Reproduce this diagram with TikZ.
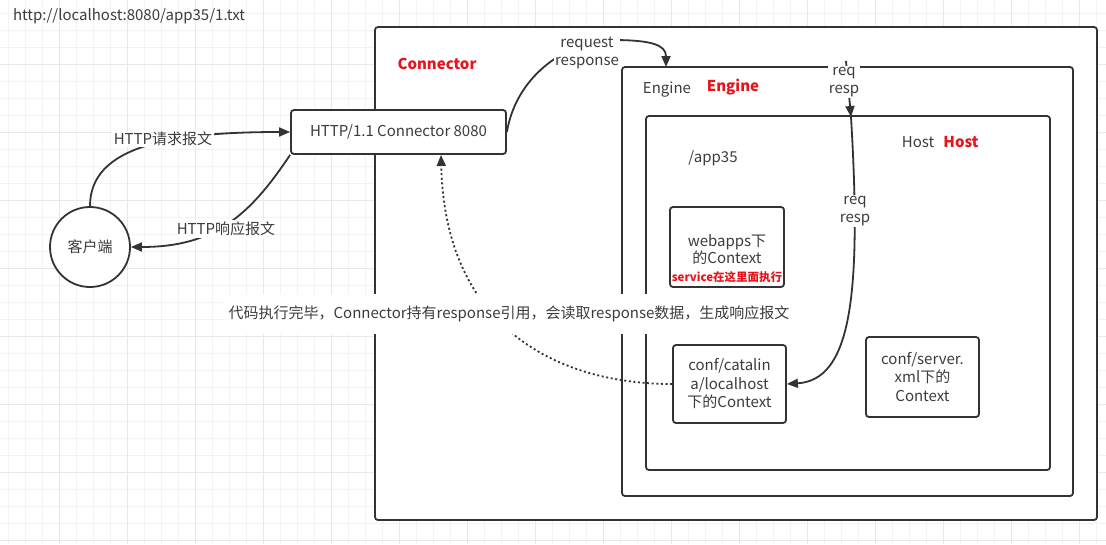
\documentclass[tikz,border=0pt]{standalone}
\usepackage{fontspec}
\setmainfont{Noto Sans CJK SC}
\usetikzlibrary{arrows.meta}
\definecolor{linegray}{HTML}{333333}
\definecolor{textgray}{HTML}{3C3C3C}
\definecolor{labelred}{HTML}{E8141C}
\definecolor{gridminor}{HTML}{F3F3F3}
\definecolor{gridmajor}{HTML}{E8E8E8}
\tikzset{
  box/.style={draw=linegray, line width=1.8pt, rounded corners=3pt, fill=white},
  txt/.style={text=textgray, font=\fontsize{15}{18.5}\selectfont, align=center},
  redtxt/.style={text=labelred, font=\fontsize{15}{17}\selectfont\bfseries},
  link/.style={draw=linegray, line width=1.8pt, -{Triangle[length=11pt,width=9pt]}},
  back/.style={fill=white, inner sep=1.5pt}
}
\begin{document}
\begin{tikzpicture}[x=1pt, y=-1pt]
        \useasboundingbox (0,0) rectangle (1106,544);
        \foreach \i in {0,...,64} \draw[gridminor, line width=1pt] ({8.5+17*\i},0) -- ++(0,544);
        \foreach \i in {0,...,31} \draw[gridminor, line width=1pt] (0,{13.5+17*\i}) -- ++(1106,0);
        \foreach \i in {0,...,15} \draw[gridmajor, line width=1pt] ({59.5+68*\i},0) -- ++(0,544);
        \foreach \i in {0,...,7} \draw[gridmajor, line width=1pt] (0,{64.5+68*\i}) -- ++(1106,0);

        \node[txt, font=\fontsize{15}{16}\selectfont] (url) at (129,16) {http://localhost:8080/app35/1.txt};

        \node[box, minimum width=722, minimum height=493] (connector) at (736,273.5) {};
        \node[box, minimum width=451, minimum height=429] (engine) at (847.5,281.5) {};
        \node[box, minimum width=404, minimum height=354] (host) at (848,293) {};
        \node[box, txt, minimum width=215, minimum height=44] (http) at (398.5,132) {HTTP/1.1 Connector 8080};
        \node[box, txt, circle, minimum size=80] (client) at (90,247) {客户端};
        \node[box, minimum width=114, minimum height=80] (webapps) at (727,247) {};
        \node[box, txt, minimum width=113, minimum height=78] (catalina) at (729.5,384) {conf/catalin\\a/localhost\\下的Context};
        \node[box, txt, minimum width=113, minimum height=80] (server) at (922.5,377) {conf/server.\\xml下的\\Context};

        \node[redtxt] (connectorname) at (437,64) {Connector};
        \node[txt] (enginetag) at (667,90) {Engine};
        \node[redtxt] (enginename) at (733,87) {Engine};
        \node[txt] (hosttag) at (918,142) {Host};
        \node[redtxt] (hostname) at (961,142) {Host};
        \node[txt] (app) at (713,158) {/app35};
        \node[txt, font=\fontsize{15}{17}\selectfont] (webappstext) at (727,249.5) {webapps下\\的Context};
        \node[redtxt, font=\fontsize{11.5}{12}\selectfont\bfseries] (service) at (727,277) {service在这里面执行};

        \coordinate (engtop) at (666,67);
        \coordinate (engreq) at (846,61);
        \coordinate (hostreq) at (851,117);
        \coordinate (httpret) at (441,155);

        \draw[link] (client.north) .. controls +(0,-60) and +(-120,0) .. (http.west);
        \draw[link] (http.south west) .. controls (250,215) and (215,247) .. (client.east);
        \draw[link] (http.east) .. controls +(10,-60) and +(-40,0) .. (612,40) .. controls +(40,0) and +(0,-22) .. (engtop);
        \draw[link] (engreq) -- (hostreq);
        \draw[link] (hostreq) .. controls (862,300) and (850,380) .. (catalina.east);
        \draw[link, dash pattern=on 2pt off 2.6pt] (catalina.west) .. controls (560,384) and (445,330) .. (httpret);

        \node[txt, back] (reqlabel) at (163,139) {HTTP请求报文};
        \node[txt, back] (resplabel) at (226,229) {HTTP响应报文};
        \node[txt, back, font=\fontsize{15}{18}\selectfont] (rrlabel) at (587,53) {request\\response};
        \node[txt, back, font=\fontsize{15}{18}\selectfont, inner sep=1pt] (enginerr) at (844,82) {req\\resp};
        \node[txt, back, font=\fontsize{15}{18}\selectfont] (hostrr) at (855,211) {req\\resp};
        \node[txt, back, inner xsep=4pt, inner ysep=12pt] (donelabel) at (509,314) {代码执行完毕，Connector持有response引用，会读取response数据，生成响应报文};
\end{tikzpicture}
\end{document}
